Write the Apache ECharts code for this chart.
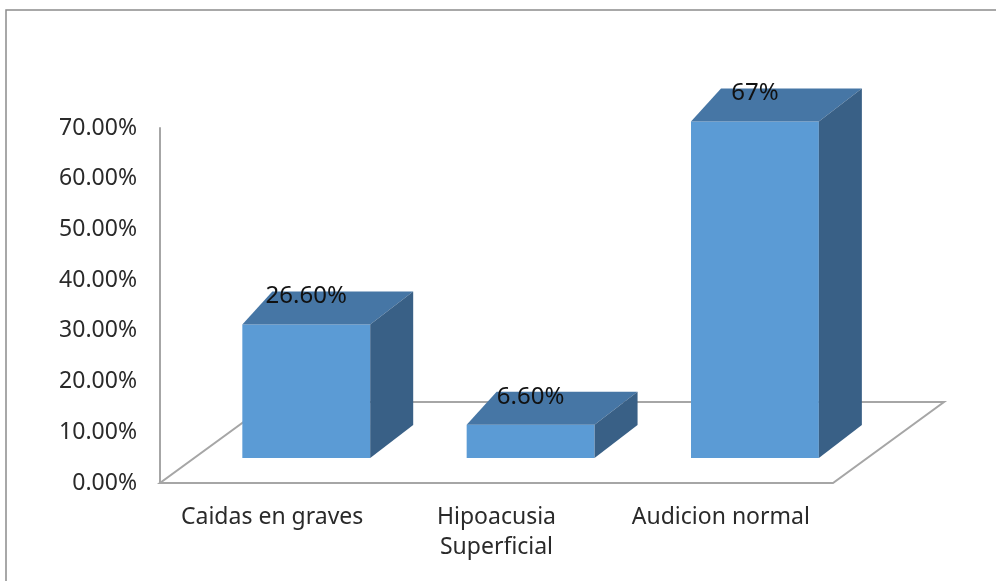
<!DOCTYPE html>
<html>
<head>
<meta charset="utf-8">
<script src="https://cdn.jsdelivr.net/npm/echarts@6/dist/echarts.min.js"></script>
<style>
  html, body { margin: 0; padding: 0; background: #fff; }
  #chart { width: 996px; height: 581px; }
</style>
</head>
<body>
<div id="chart"></div>
<script>
// datos del grafico
const categories = ['Caidas en graves', 'Hipoacusia\nSuperficial', 'Audicion normal'];
const values = [0.266, 0.066, 0.67];
const valueLabels = ['26.60%', '6.60%', '67%'];
const yMin = 0;
const yMax = 0.7;
const yStep = 0.1;

const FONT = 'Noto Sans';
const colFront = '#5b9bd5';
const colTop = '#4676a5';
const colSide = '#396086';
const colFloor = '#a6a6a6';

// piso en perspectiva (debajo de las barras)
function renderFloor (params, api) {
  const band = api.size([1, 0])[0];
  const first = api.coord([0, 0]);
  const last = api.coord([categories.length - 1, 0]);
  const fl = [first[0] - band / 2, first[1]];
  const fr = [last[0] + band / 2, last[1]];
  const dx = 111, dy = -81;
  return {
    type: 'polygon',
    shape: { points: [fl, fr, [fr[0] + dx, fr[1] + dy], [fl[0] + dx, fl[1] + dy]] },
    style: { fill: '#fff', stroke: colFloor, lineWidth: 2 },
  };
}

// barra 3d: cara frontal, superior y lateral
function renderBar (params, api) {
  const i = api.value(0);
  const v = api.value(1);
  const base = api.coord([i, 0]);
  const top = api.coord([i, v]);
  const band = api.size([1, 0])[0];
  const w = band * 0.57;
  const cx = base[0] + band * 0.152;
  const x0 = cx - w / 2, x1 = cx + w / 2;
  const yb = base[1] - 25;
  const yt = yb - (base[1] - top[1]) * 0.99;
  const dl = 30, dr = 43, dy = -33;
  return {
    type: 'group',
    children: [
      {
        type: 'polygon',
        shape: { points: [[x0, yt], [x1, yt], [x1, yb], [x0, yb]] },
        style: { fill: colFront },
      },
      {
        type: 'polygon',
        shape: { points: [[x0, yt], [x0 + dl, yt + dy], [x1 + dr, yt + dy], [x1, yt]] },
        style: { fill: colTop },
      },
      {
        type: 'polygon',
        shape: { points: [[x1, yt], [x1 + dr, yt + dy], [x1 + dr, yb + dy], [x1, yb]] },
        style: { fill: colSide },
      },
      {
        type: 'text',
        x: cx,
        y: yt + dy + 5,
        style: {
          text: valueLabels[i],
          fill: '#111',
          font: '24px "' + FONT + '"',
          align: 'center',
          verticalAlign: 'middle',
        },
      },
    ],
  };
}

const chart = echarts.init(document.getElementById('chart'));
chart.setOption({
  backgroundColor: '#fff',
  animation: false,
  graphic: [{
    type: 'rect',
    shape: { x: 6, y: 10, width: 1000, height: 600 },
    style: { fill: 'none', stroke: '#8c8c8c', lineWidth: 1.5 },
    z: -10,
  }],
  grid: { left: 160, right: 163, top: 128, bottom: 98 },
  xAxis: {
    type: 'category',
    data: categories,
    axisLine: { show: false },
    axisTick: { show: false },
    axisLabel: {
      color: '#2a2a2a',
      fontFamily: FONT,
      fontSize: 23,
      lineHeight: 30,
      margin: 19,
      interval: 0,
    },
  },
  yAxis: {
    type: 'value',
    min: yMin,
    max: yMax,
    interval: yStep,
    axisLine: { show: true, lineStyle: { color: colFloor, width: 2 } },
    axisTick: { show: false },
    splitLine: { show: false },
    axisLabel: {
      color: '#2a2a2a',
      fontFamily: FONT,
      fontSize: 23,
      margin: 23,
      formatter: (val) => (val * 100).toFixed(2) + '%',
    },
  },
  series: [
    {
      type: 'custom',
      renderItem: renderFloor,
      data: [[0, 0]],
      z: 1,
      silent: true,
    },
    {
      type: 'custom',
      renderItem: renderBar,
      data: values.map((v, i) => [i, v]),
      z: 2,
    },
  ],
});
</script>
</body>
</html>
